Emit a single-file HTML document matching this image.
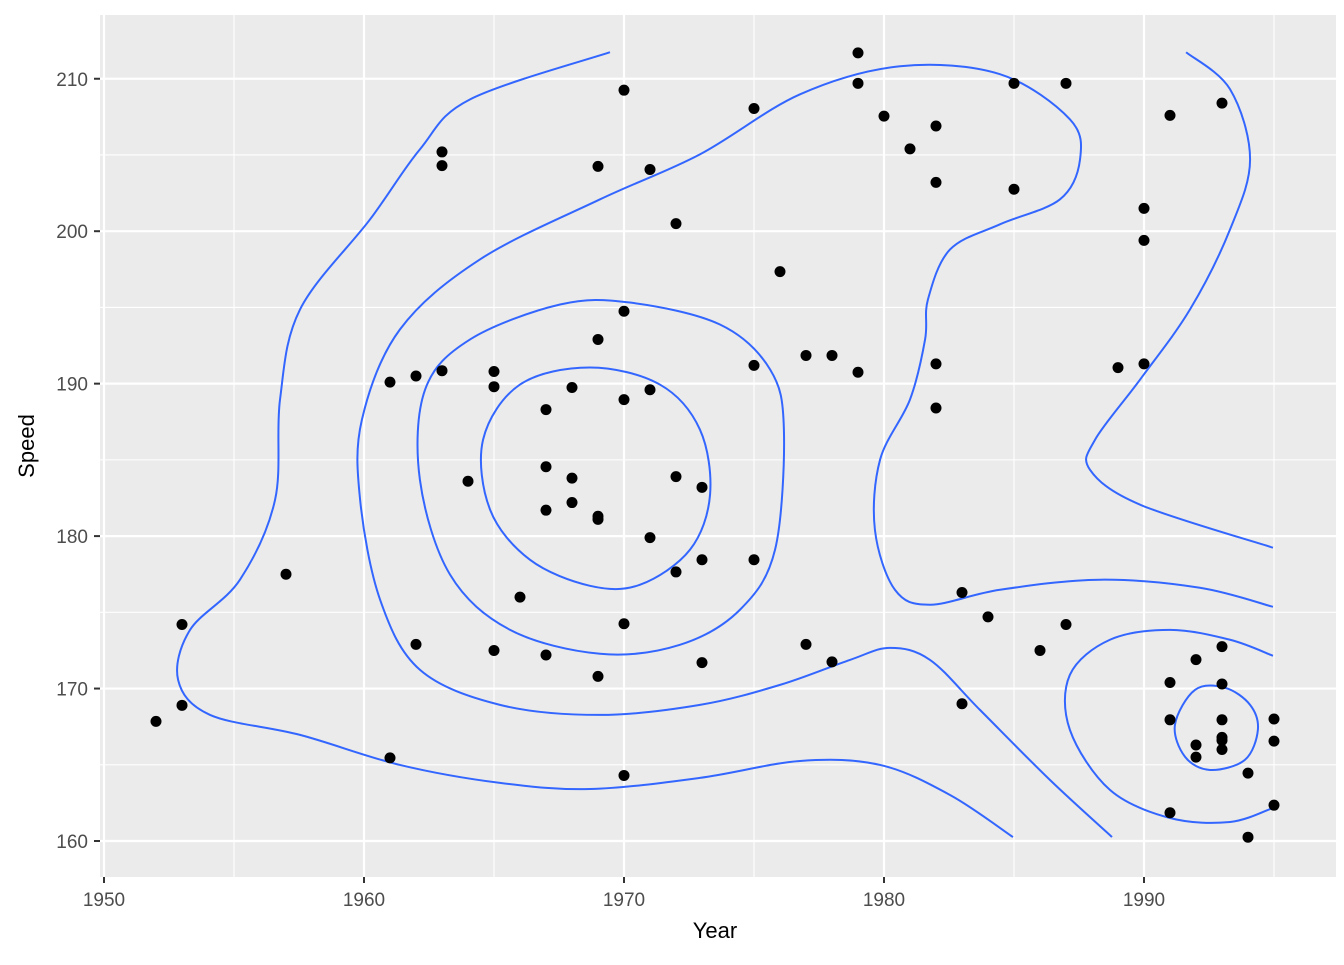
<!DOCTYPE html>
<html><head><meta charset="utf-8"><style>
body{margin:0;background:#fff}
svg text{font-family:"Liberation Sans",sans-serif}
</style></head><body>
<svg id="chart" width="1344" height="960" xmlns="http://www.w3.org/2000/svg">
<rect x="100" y="15" width="1236" height="862" fill="#ebebeb"/>
<g id="grid"></g>
<g id="contours"></g>
<g id="points"></g>
<g id="axes"></g>
<text x="715" y="938" font-size="22" text-anchor="middle" fill="#000">Year</text>
<text transform="translate(34,446) rotate(-90)" font-size="22" text-anchor="middle" fill="#000">Speed</text>
</svg>
<script>
const years=[1952,1953,1953,1957,1961,1961,1962,1962,1963,1963,1963,1964,1965,1965,1965,1966,1967,1967,1967,1967,1968,1968,1968,1969,1969,1969,1969,1969,1970,1970,1970,1970,1970,1971,1971,1971,1972,1972,1972,1973,1973,1973,1975,1975,1975,1976,1977,1977,1978,1978,1979,1979,1979,1980,1981,1982,1982,1982,1982,1983,1983,1984,1985,1985,1986,1987,1987,1989,1990,1990,1990,1991,1991,1991,1991,1992,1992,1992,1993,1993,1993,1993,1993,1993,1993,1994,1994,1995,1995,1995];
const speeds=[167.85,174.2,168.9,177.5,190.1,165.45,190.5,172.9,205.2,204.3,190.85,183.6,190.8,189.8,172.5,176.0,188.3,184.55,181.7,172.2,189.75,183.8,182.2,204.25,192.9,181.3,181.1,170.8,209.25,194.75,188.95,174.25,164.3,204.05,189.6,179.9,200.5,183.9,177.65,183.2,178.45,171.7,208.05,191.2,178.45,197.35,191.85,172.9,191.85,171.75,211.7,209.7,190.75,207.55,205.4,206.9,203.2,191.3,188.4,176.3,169.0,174.7,209.7,202.75,172.5,209.7,174.2,191.05,201.5,199.4,191.3,207.6,170.4,167.95,161.85,171.9,166.3,165.5,208.4,172.75,170.3,167.95,166.8,166.6,166.0,164.45,160.25,168.0,166.55,162.35];
const xTicks=[1950,1960,1970,1980,1990];
const yTicks=[160,170,180,190,200,210];
const contour1=[[1969.46,211.74],[1964.08,208.65],[1962.15,205.37],[1960.23,200.77],[1957.54,194.87],[1956.77,188.96],[1956.58,182.39],[1955.23,177.14],[1953.31,173.85],[1952.85,170.57],[1954.08,168.27],[1957.54,166.96],[1961.38,164.99],[1965.23,163.81],[1968.69,163.41],[1972.92,164.14],[1976.77,165.25],[1979.85,164.99],[1982.54,163.02],[1984.96,160.26]];
const contour2=[[1988.77,160.26],[1986.38,164.01],[1983.69,168.6],[1981.77,171.88],[1980.23,172.67],[1978.69,171.88],[1976.0,170.24],[1972.92,168.93],[1969.08,168.27],[1965.23,168.93],[1962.15,171.23],[1960.62,175.82],[1959.85,182.39],[1959.92,187.64],[1961.38,193.55],[1964.46,198.15],[1969.08,202.09],[1972.92,205.04],[1976.77,208.98],[1980.62,210.82],[1984.46,210.3],[1987.15,207.34],[1987.54,204.71],[1986.77,202.09],[1984.46,200.45],[1982.54,198.8],[1981.69,195.52],[1981.58,192.9],[1981.0,188.96],[1979.85,185.02],[1979.65,180.42],[1980.42,176.48],[1981.77,175.5],[1984.46,176.48],[1988.31,177.14],[1992.15,176.61],[1994.96,175.36]];
const contour3=[[1991.62,211.74],[1993.31,209.31],[1994.08,204.71],[1993.31,200.12],[1991.77,194.87],[1989.85,190.27],[1988.12,186.33],[1987.92,184.36],[1989.85,182.06],[1994.96,179.24]];
const contour4=[[1976.15,186.99],[1975.81,179.11],[1974.46,175.17],[1972.15,172.87],[1969.08,172.28],[1965.62,173.85],[1963.31,177.47],[1962.15,183.7],[1962.35,189.61],[1964.08,192.9],[1967.54,195.19],[1970.23,195.32],[1973.69,193.88],[1975.62,190.93]];
const contour5=[[1973.31,182.72],[1972.54,179.11],[1970.62,176.81],[1968.69,176.74],[1966.38,178.45],[1964.85,181.73],[1964.58,186.33],[1966.0,189.94],[1968.69,191.06],[1971.38,189.94],[1972.92,186.99]];
const contour6=[[1994.96,172.15],[1993.31,173.2],[1991.0,173.85],[1988.69,173.2],[1987.15,170.9],[1987.15,167.29],[1988.69,163.35],[1991.0,161.51],[1993.31,161.25],[1994.96,162.17]];
const contour7=[[1994.38,167.29],[1993.88,165.32],[1992.54,164.66],[1991.58,165.52],[1991.19,167.62],[1991.96,169.91],[1993.12,170.05],[1994.08,168.93]];

const NS='http://www.w3.org/2000/svg';
const X=v=>104+(v-1950)*26;
const Y=v=>841-(v-160)*15.245;
function mk(tag,attrs,parent){const e=document.createElementNS(NS,tag);for(const k in attrs)e.setAttribute(k,attrs[k]);parent.appendChild(e);return e;}
const grid=document.getElementById('grid');
for(let i=0;i<xTicks.length;i++){
  const v=xTicks[i];
  const m=mk('line',{x1:X(v+5),x2:X(v+5),y1:15,y2:877,stroke:'#fff','stroke-width':1.1},grid);
  
  
  const l=mk('line',{x1:X(v),x2:X(v),y1:15,y2:877,stroke:'#fff','stroke-width':2.2},grid);
  
  
}
for(let i=0;i<yTicks.length;i++){
  const v=yTicks[i];
  const m=mk('line',{x1:100,x2:1336,y1:Y(v+5),y2:Y(v+5),stroke:'#fff','stroke-width':1.1},grid);
  
  
  const l=mk('line',{x1:100,x2:1336,y1:Y(v),y2:Y(v),stroke:'#fff','stroke-width':2.2},grid);
  
  
}
function smooth(pts,closed){
  const p=pts.map(d=>[X(d[0]),Y(d[1])]);const n=p.length;
  const get=i=>closed?p[(i+n)%n]:p[Math.max(0,Math.min(n-1,i))];
  let s='M'+p[0][0]+','+p[0][1];
  const segs=closed?n:n-1;
  for(let i=0;i<segs;i++){
    const p0=get(i-1),p1=get(i),p2=get(i+1),p3=get(i+2);
    const c1=[p1[0]+(p2[0]-p0[0])/6,p1[1]+(p2[1]-p0[1])/6];
    const c2=[p2[0]-(p3[0]-p1[0])/6,p2[1]-(p3[1]-p1[1])/6];
    s+=`C${c1[0]},${c1[1]} ${c2[0]},${c2[1]} ${p2[0]},${p2[1]}`;
  }
  return s+(closed?'Z':'');
}
const cg=document.getElementById('contours');
[[contour1,false],[contour2,false],[contour3,false],[contour4,true],[contour5,true],[contour6,false],[contour7,true]].forEach(([c,cl])=>{
  const p=mk('path',{d:smooth(c,cl),fill:'none',stroke:'#3366ff','stroke-width':2},cg);
  
  
});
const pg=document.getElementById('points');
for(let i=0;i<years.length;i++){
  const c=mk('circle',{cx:X(years[i]),cy:Y(speeds[i]),r:5.5,fill:'#000'},pg);
  
  
}
const ax=document.getElementById('axes');
xTicks.forEach(v=>{
  const t=mk('line',{x1:X(v),x2:X(v),y1:877,y2:883,stroke:'#333','stroke-width':2},ax);
  
  
  const l=mk('text',{x:X(v),y:906,'font-size':19,'text-anchor':'middle',fill:'#4d4d4d'},ax);
  l.textContent=v;
  
  
});
yTicks.forEach(v=>{
  const t=mk('line',{x1:94,x2:100,y1:Y(v),y2:Y(v),stroke:'#333','stroke-width':2},ax);
  
  
  const l=mk('text',{x:88,y:Y(v)+7,'font-size':19,'text-anchor':'end',fill:'#4d4d4d'},ax);
  l.textContent=v;
  
  
});
</script>
</body></html>
